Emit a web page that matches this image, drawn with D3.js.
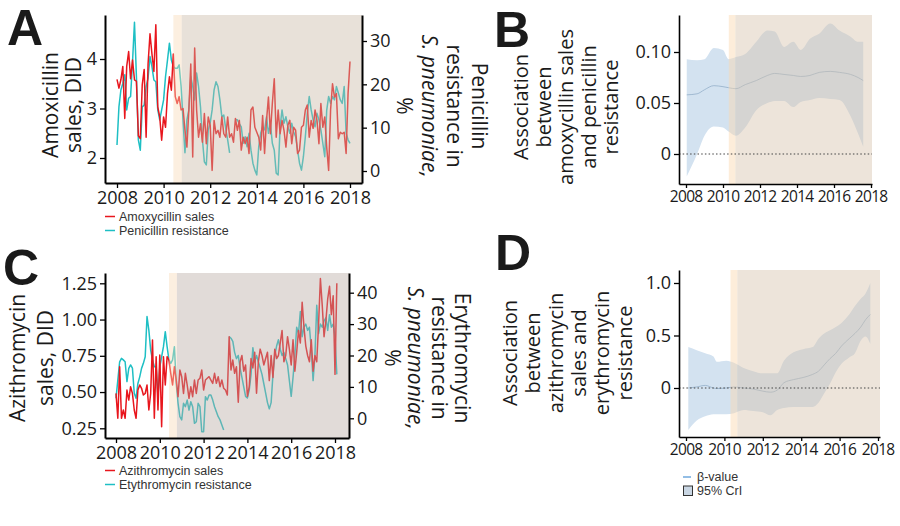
<!DOCTYPE html>
<html><head><meta charset="utf-8">
<script src="https://cdn.jsdelivr.net/npm/d3@7"></script>
<style>
body{margin:0;background:#fff}
svg{display:block}
text{font-family:"Open Sans",sans-serif;fill:#1a1a1a}
text.leg{font-family:"Liberation Sans",Arial,sans-serif;font-size:12.5px;fill:#333}
</style>
</head><body>
<svg id="chart" width="900" height="526"></svg>
<script>
// ---------------- DATA ----------------
const yearTicks = [2008, 2010, 2012, 2014, 2016, 2018];
const interventionStart = 2010.42;   // light orange strip start
const interventionEnd = 2010.78;     // post-intervention period start

// Panel A: monthly series from Jan 2008
const amoxSales = [3.59,3.41,3.58,3.85,2.80,3.85,4.15,3.60,3.98,3.58,3.55,2.45,
 2.39,3.48,3.79,2.42,3.90,4.51,4.10,3.75,4.69,3.03,2.83,2.36,
 2.83,2.62,3.30,3.64,3.37,4.10,3.24,3.10,3.24,2.97,3.00,2.56,
 2.22,2.97,3.90,2.02,4.22,2.97,2.42,2.69,2.32,2.90,2.29,2.83,
 2.66,1.75,2.76,2.49,2.56,2.42,2.83,2.49,2.42,2.83,2.42,2.49,
 2.32,2.80,2.56,2.76,2.16,2.42,2.29,2.42,2.09,2.97,3.03,2.62,
 2.52,2.42,2.16,2.86,2.09,2.76,3.23,2.49,3.10,3.60,2.42,2.97,
 2.49,2.76,2.56,2.22,2.66,2.76,2.29,2.62,2.56,2.09,2.16,2.62,
 2.66,2.97,3.07,2.42,2.76,2.60,2.97,2.76,2.29,3.10,2.62,2.83,
 2.22,1.75,2.97,3.50,3.23,3.30,2.39,2.52,2.49,2.52,2.09,3.30,
 3.95];
const penicillinRes = [6.0,14.8,18.7,20.2,22.2,14.1,16.8,17.2,25.2,34.3,21.8,7.2,
 4.8,14.8,15.2,19.5,21.4,26.4,24.1,21.0,20.6,14.1,11.8,14.1,
 16.4,21.8,25.6,29.5,25.6,24.1,23.7,23.7,24.5,19.5,11.8,4.2,
 11.8,14.1,21.8,19.5,16.4,22.6,19.5,14.8,7.2,2.1,1.4,9.5,
 11.1,14.1,18.7,20.6,19.5,16.4,12.5,12.9,9.8,7.2,4.2,null,
 null,11.8,11.8,10.9,10.2,6.4,7.9,5.6,8.7,4.8,1.8,0.2,
 -0.9,5.6,8.7,10.2,9.5,12.5,8.7,11.0,6.4,4.8,-0.5,-0.9,
 10.2,14.1,11.0,12.5,10.2,8.7,11.0,9.0,7.9,4.8,1.8,0.2,
 3.3,7.9,13.3,17.2,14.1,11.8,10.2,13.3,11.8,9.5,6.4,3.3,
 14.0,17.2,15.6,17.2,16.4,19.5,18.0,16.4,15.6,19.5,8.7,7.2,
 6.4];

// Panel C: monthly series from Jan 2008
const azithSales = [0.491,0.319,0.675,0.319,0.376,0.319,0.514,0.445,0.537,0.491,0.376,0.319,
 0.514,0.549,0.526,0.480,0.490,0.549,0.376,0.490,0.859,0.319,0.744,0.376,
 0.756,0.261,0.744,0.549,0.744,0.721,0.629,0.549,0.675,0.583,0.468,0.652,
 0.606,0.490,0.629,0.549,0.457,0.537,0.468,0.583,0.490,0.583,0.595,0.652,
 0.514,0.583,0.595,0.606,0.583,0.560,0.629,0.560,0.606,0.537,0.583,0.526,
 0.514,0.480,0.882,0.652,0.721,0.629,0.675,0.430,0.709,0.752,0.644,0.687,
 0.471,0.536,0.731,0.666,0.774,0.492,0.709,0.796,0.752,0.687,0.731,0.774,
 0.579,0.752,0.601,0.796,0.731,0.752,0.839,0.925,0.709,0.752,0.882,0.796,
 0.687,0.860,0.644,0.774,0.925,0.839,1.120,0.947,0.817,0.752,0.709,0.860,
 0.644,0.752,0.709,0.969,1.283,1.099,0.882,0.990,1.142,1.229,1.034,1.164,
 0.622,1.250];
const erythroRes = [6.4,12.2,18.0,19.1,18.6,18.0,11.7,15.9,17.0,16.0,8.0,6.4,
 11.1,13.2,15.9,17.5,19.6,32.4,28.1,21.7,18.6,16.4,16.4,6.9,
 16.4,19.6,22.8,27.6,22.8,18.6,17.5,18.6,22.8,11.1,4.8,0.5,
 -0.5,4.8,3.7,5.8,2.6,5.3,3.7,-1.6,-1.1,4.8,3.7,-4.3,
 -4.3,6.9,5.8,7.4,7.4,5.8,3.7,2.1,0.5,-0.5,-2.1,-3.7,
 null,null,26,25.5,24.5,21,19,20,16,13,10,7,
 6.5,9,14,22.5,18,20,18,16,14,11,8,5,
 3,5,14,20,23,25,22,20,21,19,17,12,
 7,13,20,29,27,34,26,29,30,28,29,22,
 12,20,36,27,30,29,31,32,28,33,29,30,
 26,14];

// Panel B: time-varying association (beta) with 95% CrI
const bYears = [2008.04,2008.6,2009.0,2009.5,2010.0,2010.3,2010.7,2011.2,2011.8,2012.4,2012.8,2013.3,2013.8,2014.2,2014.7,2015.2,2015.8,2016.3,2016.9,2017.3,2017.58];
const bUpper = [0.093,0.092,0.093,0.104,0.102,0.093,0.095,0.098,0.110,0.121,0.120,0.105,0.110,0.102,0.113,0.118,0.128,0.121,0.115,0.110,0.110];
const bLower = [-0.022,0.000,0.018,0.027,0.026,0.022,0.018,0.026,0.043,0.050,0.052,0.052,0.046,0.051,0.053,0.055,0.054,0.053,0.037,0.020,0.007];
const bBeta  = [0.058,0.059,0.063,0.067,0.066,0.065,0.064,0.068,0.072,0.077,0.079,0.078,0.077,0.076,0.077,0.080,0.081,0.080,0.078,0.075,0.072];

// Panel D
const dYears = [2008.12,2008.56,2009.0,2009.43,2009.6,2010.1,2010.5,2011.0,2011.5,2012.0,2012.4,2012.75,2013.1,2013.6,2014.1,2014.6,2014.9,2015.2,2015.5,2015.8,2016.1,2016.5,2016.8,2017.1,2017.35,2017.6];
const dUpper = [0.39,0.36,0.33,0.30,0.25,0.26,0.24,0.19,0.16,0.14,0.14,0.14,0.26,0.34,0.37,0.39,0.47,0.52,0.55,0.58,0.62,0.70,0.78,0.85,0.90,1.00];
const dLower = [-0.40,-0.31,-0.27,-0.25,-0.25,-0.25,-0.24,-0.21,-0.22,-0.23,-0.26,-0.21,-0.19,-0.18,-0.18,-0.18,-0.14,-0.05,0.04,0.15,0.23,0.29,0.33,0.45,0.49,0.42];
const dBeta  = [0.00,0.01,0.025,0.00,-0.005,0.00,0.01,0.00,-0.01,-0.03,-0.04,-0.02,0.05,0.08,0.10,0.13,0.16,0.22,0.28,0.33,0.40,0.47,0.52,0.58,0.65,0.70];

// tick values and labels
const aLeftTicks = [2, 3, 4];
const aRightTicks = [0, 10, 20, 30];
const cLeftTicks = [0.25, 0.50, 0.75, 1.00, 1.25];
const cLeftLabels = ["0.25", "0.50", "0.75", "1.00", "1.25"];
const cRightTicks = [0, 10, 20, 30, 40];
const bTicks = [0, 0.05, 0.10];
const bTickLabels = ["0", "0.05", "0.10"];
const dTicks = [0, 0.5, 1.0];
const dTickLabels = ["0", "0.5", "1.0"];

const legendA = ["Amoxycillin sales", "Penicillin resistance"];
const legendC = ["Azithromycin sales", "Etythromycin resistance"];
const legendD = ["β-value", "95% CrI"];

// ---------------- DRAWING ----------------
const RED = "#e8161d", CYAN = "#1ebfc4";
const svg = d3.select("#chart");

function ext(d0, d1, r0, r1, e0, e1) {
  const s = d3.scaleLinear().domain([d0, d1]).range([r0, r1]);
  return d3.scaleLinear().domain([s.invert(e0), s.invert(e1)]).range([e0, e1]);
}
const monthYear = i => 2008 + i / 12;

function styleAxis(g, size, domainW, ls) {
  g.select(".domain").attr("stroke", "#000").attr("stroke-width", domainW);
  g.selectAll(".tick line").attr("stroke", "#000").attr("stroke-width", 1.3);
  g.selectAll(".tick text").style("font-size", size + "px").style("font-family", '"Open Sans",sans-serif')
    .style("letter-spacing", (ls || 0) + "px").attr("fill", "#1a1a1a");
}

function vlabel(lines, cx, cy, angle, size, lh) {
  const n = lines.length;
  lines.forEach((segs, i) => {
    const off = (i - (n - 1) / 2) * lh * (angle < 0 ? 1 : -1);
    const t = svg.append("text")
      .attr("transform", `translate(${cx + off},${cy}) rotate(${angle})`)
      .attr("text-anchor", "middle").attr("dominant-baseline", "central")
      .style("font-size", size + "px");
    (Array.isArray(segs) ? segs : [[segs, false]]).forEach(([s, it]) => {
      t.append("tspan").style("font-style", it ? "italic" : "normal").text(s);
    });
  });
}

function letter(ch, x, y) {
  svg.append("text").attr("x", x).attr("y", y).text(ch)
    .style("font-family", '"Liberation Sans",Arial,sans-serif').style("font-weight", 700)
    .style("font-size", "50px").attr("fill", "#000");
}

function dualPanel(cfg) {
  const { x, yL, yR, sales, res, id } = cfg;
  const [x0, x1] = x.range(), [y0, y1] = yL.range();
  const g = svg.append("g");
  g.append("clipPath").attr("id", "clip" + id).append("rect")
    .attr("x", x0).attr("y", y1).attr("width", x1 - x0).attr("height", y0 - y1);
  const lg = g.append("g").attr("clip-path", `url(#clip${id})`);
  const lineL = d3.line().x((d, i) => x(monthYear(i))).y(d => yL(d));
  const lineR = d3.line().defined(d => d != null).x((d, i) => x(monthYear(i))).y(d => yR(d));
  lg.append("path").attr("d", lineR(res)).attr("fill", "none").attr("stroke", CYAN).attr("stroke-width", 1.5).attr("stroke-linejoin", "round");
  lg.append("path").attr("d", lineL(sales)).attr("fill", "none").attr("stroke", RED).attr("stroke-width", 1.5).attr("stroke-linejoin", "round");
  // intervention shading over lines
  g.append("rect").attr("x", x(interventionStart)).attr("y", y1)
    .attr("width", x(interventionEnd) - x(interventionStart)).attr("height", y0 - y1)
    .attr("fill", "#f9d9b5").attr("opacity", 0.42);
  g.append("rect").attr("x", x(interventionEnd)).attr("y", y1)
    .attr("width", x1 - x(interventionEnd)).attr("height", y0 - y1)
    .attr("fill", cfg.shade).attr("opacity", 0.42);
  // axes
  const ax = g.append("g").attr("transform", `translate(0,${y0})`)
    .call(d3.axisBottom(x).tickValues(yearTicks).tickFormat(d3.format("d")).tickSize(5).tickSizeOuter(0).tickPadding(3));
  styleAxis(ax, 18, 2);
  const al = g.append("g").attr("transform", `translate(${x0},0)`)
    .call(d3.axisLeft(yL).tickValues(cfg.lTicks).tickFormat((d, i) => cfg.lLabels ? cfg.lLabels[i] : d3.format("d")(d)).tickSize(5).tickSizeOuter(0).tickPadding(3));
  styleAxis(al, 18, 2);
  const ar = g.append("g").attr("transform", `translate(${x1},0)`)
    .call(d3.axisRight(yR).tickValues(cfg.rTicks).tickFormat(d3.format("d")).tickSize(5).tickSizeOuter(0).tickPadding(3));
  styleAxis(ar, 18, 2);
  // legend
  cfg.legend.forEach((t, i) => {
    const ly = cfg.legendY + i * 14;
    g.append("line").attr("x1", x0).attr("x2", x0 + 10).attr("y1", ly).attr("y2", ly)
      .attr("stroke", i === 0 ? RED : CYAN).attr("stroke-width", 1.5);
    g.append("text").attr("class", "leg").attr("x", x0 + 14).attr("y", ly).attr("dominant-baseline", "central").text(t);
  });
}

function bandPanel(cfg) {
  const { x, y, years, lower, upper, beta, id } = cfg;
  const [x0, x1] = x.range(), [y0, y1] = y.range();
  const g = svg.append("g");
  const area = d3.area().x((d, i) => x(years[i])).y0((d, i) => y(lower[i])).y1((d, i) => y(upper[i])).curve(d3.curveMonotoneX);
  g.append("path").attr("d", area(years)).attr("fill", "#d3e2f0");
  const ln = d3.line().x((d, i) => x(years[i])).y(d => y(d)).curve(d3.curveMonotoneX);
  g.append("path").attr("d", ln(beta)).attr("fill", "none").attr("stroke", "#93afc9").attr("stroke-width", 0.8);
  g.append("rect").attr("x", x(interventionStart) - 2).attr("y", y1)
    .attr("width", x(interventionEnd) - x(interventionStart)).attr("height", y0 - y1)
    .attr("fill", "#fbd7ae").attr("opacity", 0.45);
  g.append("rect").attr("x", x(interventionEnd) - 2).attr("y", y1)
    .attr("width", x1 - x(interventionEnd) + 2).attr("height", y0 - y1)
    .attr("fill", "#d6c3ae").attr("opacity", 0.45);
  g.append("line").attr("x1", x0).attr("x2", x1).attr("y1", y(0)).attr("y2", y(0))
    .attr("stroke", "#444").attr("stroke-width", 1.2).attr("stroke-dasharray", "1.5,2.2");
  const ax = g.append("g").attr("transform", `translate(0,${y0})`)
    .call(d3.axisBottom(x).tickValues(yearTicks).tickFormat(d3.format("d")).tickSize(4).tickSizeOuter(0).tickPadding(3));
  styleAxis(ax, 15.5, 1.6, -0.7);
  ax.selectAll(".tick text").attr("dx", "-0.35");
  const al = g.append("g").attr("transform", `translate(${x0},0)`)
    .call(d3.axisLeft(y).tickValues(cfg.ticks).tickFormat((d, i) => cfg.labels[i]).tickSize(5).tickSizeOuter(0).tickPadding(3));
  styleAxis(al, 18, 1.6);
}

// Panel A
const xA = ext(2008, 2018, 117, 350, 105, 362);
dualPanel({ id: "A", x: xA,
  yL: ext(2, 4, 158, 59, 183, 15), yR: ext(0, 30, 171, 41, 183, 15),
  sales: amoxSales, res: penicillinRes, lTicks: aLeftTicks, rTicks: aRightTicks,
  shade: "#c9b7a4", legend: legendA, legendY: 216.5 });

// Panel C
const xC = ext(2008, 2018, 116, 335, 105, 349);
dualPanel({ id: "C", x: xC,
  yL: ext(0.25, 1.25, 428.3, 283.3, 438, 273), yR: ext(0, 40, 418.3, 292.7, 438, 273),
  sales: azithSales, res: erythroRes, lTicks: cLeftTicks, lLabels: cLeftLabels, rTicks: cRightTicks,
  shade: "#b8aaa3", legend: legendC, legendY: 470.5 });

// Panel B
bandPanel({ id: "B", x: ext(2008, 2018, 686, 871, 679, 872), y: ext(0, 0.10, 154, 52, 184, 15),
  years: bYears, lower: bLower, upper: bUpper, beta: bBeta, ticks: bTicks, labels: bTickLabels });

// Panel D
bandPanel({ id: "D", x: ext(2008, 2018, 686, 878, 679, 880), y: ext(0, 1, 388, 283, 437, 270),
  years: dYears, lower: dLower, upper: dUpper, beta: dBeta, ticks: dTicks, labels: dTickLabels });

// Legend D
svg.append("line").attr("x1", 683).attr("x2", 691).attr("y1", 477).attr("y2", 477).attr("stroke", "#6fa8dc").attr("stroke-width", 1.5);
svg.append("text").attr("class", "leg").attr("x", 697).attr("y", 477).attr("dominant-baseline", "central").text(legendD[0]);
svg.append("rect").attr("x", 683.5).attr("y", 486).attr("width", 9).attr("height", 9.5).attr("fill", "#c9d6e3").attr("stroke", "#333").attr("stroke-width", 1);
svg.append("text").attr("class", "leg").attr("x", 697).attr("y", 491).attr("dominant-baseline", "central").text(legendD[1]);

// Axis titles
vlabel(["Amoxicillin", "sales, DID"], 61, 105, -90, 21, 23);
vlabel(["Penicillin", "resistance in", [["S. pneumoniae,", true]], "%"], 442, 106, 90, 21, 25);
vlabel(["Azithromycin", "sales, DID"], 31, 358, -90, 21, 28);
vlabel(["Erythromycin", "resistance in", [["S. pneumoniae,", true]], "%"], 428, 358, 90, 21, 23.3);
vlabel(["Association", "between", "amoxycillin sales", "and penicillin", "resistance"], 565, 107, -90, 20, 22.5);
vlabel(["Association", "between", "azithromycin", "sales and", "erythromycin", "resistance"], 566, 353, -90, 20, 23);

// Panel letters
letter("A", 7, 45);
letter("B", 494, 47);
letter("C", 3, 285);
letter("D", 495, 270);
</script>
</body></html>
